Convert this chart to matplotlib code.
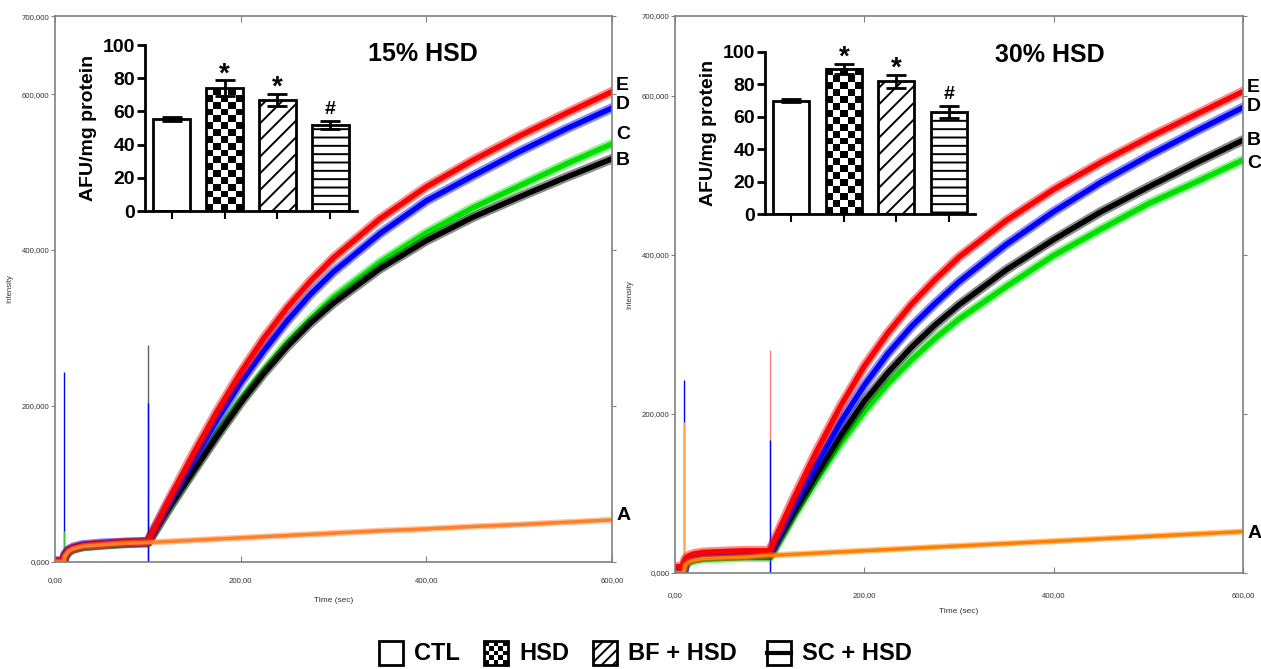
import numpy as np
import matplotlib
matplotlib.use('Agg')
import matplotlib.pyplot as plt
from matplotlib.patches import Rectangle

plt.rcParams['font.family'] = ['Liberation Sans', 'DejaVu Sans']
plt.rcParams['hatch.linewidth'] = 1.4

# ---- kinetic traces, intensity in thousands ----
time = [0, 9, 11, 15, 20, 30, 50, 75, 100,
        125, 150, 175, 200, 225, 250, 275, 300, 350, 400, 450, 500, 550, 600]

# 15% HSD panel
l_A = [0, 0, 8, 14, 17, 20, 22, 24, 25,
       26.5, 28, 29.5, 31, 32.5, 34, 35.5, 37, 40, 42.5, 45.5, 48, 51, 54]
l_B = [0, 0, 8, 14, 17, 20, 22, 24, 25,
       73, 118, 162, 204, 242, 276, 306, 332, 376, 412, 442, 468, 493, 517]
l_C = [0, 0, 8, 14, 17, 20, 22, 24, 25,
       74, 120, 165, 207, 245, 281, 311, 339, 384, 422, 454, 482, 510, 536]
l_D = [1, 1, 10, 16, 19, 22, 24, 25, 26,
       81, 133, 183, 230, 271, 309, 343, 372, 421, 463, 495, 526, 555, 582]
l_E = [1, 1, 9, 15, 18, 21, 23, 25, 26,
       85, 141, 194, 243, 287, 326, 360, 390, 440, 481, 515, 546, 575, 603]

# 30% HSD panel
r_A = [0, 0, 10, 14, 16, 18, 19, 20, 22,
       23.5, 25, 26.5, 28, 29.5, 31, 32.5, 34, 37, 40, 43, 46, 49, 52]
r_B = [2, 2, 12, 16, 18, 20, 21, 22, 22,
       75, 125, 173, 216, 252, 284, 312, 337, 381, 419, 454, 485, 515, 544]
r_C = [0, 0, 10, 14, 16, 18, 19, 20, 20,
       71, 118, 163, 203, 238, 268, 295, 319, 360, 399, 432, 464, 491, 519]
r_D = [3, 3, 14, 18, 20, 22, 24, 25, 25,
       84, 138, 190, 236, 276, 310, 339, 366, 413, 454, 491, 524, 555, 585]
r_E = [8, 8, 18, 22, 24, 26, 27, 28, 28,
       93, 154, 210, 260, 302, 338, 369, 397, 443, 482, 516, 547, 576, 605]

# injection spikes
l_spike_t = [10, 10, 100, 100]
l_spike_top = [243, 40, 278, 204]
r_spike_t = [9.5, 9.5, 100, 100]
r_spike_top = [242, 190, 280, 167]

yticks = [0, 200, 400, 600, 700]
ytick_labels = ['0,000', '200,000', '400,000', '600,000', '700,000']
xticks = [0, 200, 400, 600]
xtick_labels = ['0,00', '200,00', '400,00', '600,00']

# ---- inset bars (AFU/mg protein) ----
groups = ['CTL', 'HSD', 'BF + HSD', 'SC + HSD']
afu_15 = [55.5, 74, 67, 52]
err_15 = [1, 4.8, 3.5, 2.5]
afu_30 = [70, 89.5, 82, 63]
err_30 = [1, 3, 4, 3.5]
marks = ['', '*', '*', '#']

fig = plt.figure(figsize=(12.61, 6.69), dpi=100)

spine_gray = '#808080'


def trace_panel(rect, traces, colors, letters, letter_dy, spike_t, spike_top, spike_colors, title, xpad, xlabpad):
    ax = fig.add_axes(rect)
    for vals, c in zip(traces, colors):
        lw = 4.5 if c.startswith('#ff') and c != '#ff0000' else 7
        ax.plot(time, vals, color=c, lw=lw, alpha=0.45, solid_joinstyle='round', zorder=2)
        ax.plot(time, vals, color=c, lw=lw * 0.55, solid_joinstyle='round', zorder=2)
    for t, top, c in zip(spike_t, spike_top, spike_colors):
        ax.vlines(t, 0, top, color=c, lw=1, zorder=1)
    for vals, let, dy in zip(traces, letters, letter_dy):
        ax.annotate(let, xy=(600, vals[-1]), xytext=(3, dy), textcoords='offset points',
                    fontsize=14, fontweight='bold', ha='left', va='center', annotation_clip=False)
    ax.set_xlim(0, 600)
    ax.set_ylim(0, 700)
    ax.set_xticks(xticks)
    ax.set_xticklabels(xtick_labels)
    ax.set_yticks(yticks)
    ax.set_yticklabels(ytick_labels)
    for s in ax.spines.values():
        s.set_color(spine_gray)
        s.set_linewidth(1.2)
    ax.tick_params(axis='x', direction='in', length=4, color=spine_gray, labelsize=5.6,
                   labelcolor='#333333', pad=xpad, top=True)
    ax.tick_params(axis='y', direction='out', length=3, color=spine_gray, labelsize=5.6,
                   labelcolor='#333333', pad=1, right=True)
    ax.set_xlabel('Time (sec)', fontsize=6, color='#333333', labelpad=xlabpad)
    ax.set_ylabel('Intensity', fontsize=5.5, color='#333333', labelpad=6)
    ax.text(0.66, 0.93, title, transform=ax.transAxes, fontsize=18, fontweight='bold',
            ha='center', va='center')
    return ax


def inset_bars(rect, vals, errs, sq_h):
    ax = fig.add_axes(rect)
    ax.patch.set_visible(False)
    pos = np.arange(len(groups))
    width = 0.68
    bars = ax.bar(pos, vals, width=width, color='white', edgecolor='black', lw=2, zorder=2)
    # checkerboard for HSD
    ny = int(round(vals[1] / sq_h))
    pat = np.indices((ny, 5)).sum(axis=0) % 2
    ax.imshow(pat, cmap='gray', extent=(pos[1] - width / 2, pos[1] + width / 2, 0, vals[1]),
              origin='lower', aspect='auto', interpolation='nearest', zorder=1.5)
    bars[1].set_facecolor('none')
    bars[2].set_hatch('//')
    bars[3].set_hatch('--')
    ax.errorbar(pos, vals, yerr=errs, fmt='none', ecolor='black', elinewidth=2,
                capsize=7, capthick=2, zorder=3)
    for p, v, e, m in zip(pos, vals, errs, marks):
        if m:
            ax.annotate(m, xy=(p, v + e), xytext=(0, -5 if m == '*' else 2), textcoords='offset points',
                        ha='center', va='bottom', fontsize=20 if m == '*' else 14, fontweight='bold')
    ax.set_xlim(-0.5, 3.5)
    ax.set_ylim(0, 100)
    ax.set_yticks([0, 20, 40, 60, 80, 100])
    ax.set_xticks(pos)
    ax.set_xticklabels([])
    ax.spines['top'].set_visible(False)
    ax.spines['right'].set_visible(False)
    ax.spines['left'].set_linewidth(2)
    ax.spines['bottom'].set_linewidth(2)
    ax.tick_params(axis='y', length=6, width=2, labelsize=14, pad=1)
    ax.tick_params(axis='x', length=6, width=1.5)
    for lab in ax.get_yticklabels():
        lab.set_fontweight('bold')
    ax.set_ylabel('AFU/mg protein', fontsize=14, fontweight='bold', labelpad=4)
    return ax


trace_panel([0.0436, 0.1599, 0.4417, 0.8161], [l_C, l_B, l_D, l_E, l_A],
            ['#00e000', 'black', '#0000ff', '#ff0000', '#ff7f2a'],
            ['C', 'B', 'D', 'E', 'A'], [7, -1.5, 2.5, 4.5, 3.5],
            l_spike_t, l_spike_top, ['#0000ff', '#40c040', '#606060', '#0000ff'],
            '15% HSD', 11, 9)
trace_panel([0.5353, 0.1435, 0.4504, 0.8326], [r_C, r_B, r_D, r_E, r_A],
            ['#00e000', 'black', '#0000ff', '#ff0000', '#ff8000'],
            ['C', 'B', 'D', 'E', 'A'], [-2.5, 0, 0.5, 3, -1.5],
            r_spike_t, r_spike_top, ['#0000ff', '#ffa050', '#ff8080', '#0000ff'],
            '30% HSD', 14, 6)

inset_bars([0.1150, 0.6846, 0.1681, 0.2481], afu_15, err_15, 4.2)
inset_bars([0.6067, 0.6801, 0.1665, 0.2422], afu_30, err_30, 4.3)

# ---- shared legend at the bottom (pixel coordinates) ----
lg = fig.add_axes([0, 0, 1, 1])
lg.axis('off')
box_x = [379, 484, 593, 767]
box_top, box = 641, 24
for i, (bx, name) in enumerate(zip(box_x, groups)):
    lg.add_patch(Rectangle((bx, box_top), box, box, facecolor='white', edgecolor='black', lw=2, zorder=3,
                           hatch='///' if i == 2 else None, fill=(i != 1)))
    if i == 1:
        pat = np.indices((5, 5)).sum(axis=0) % 2
        lg.imshow(pat, cmap='gray', extent=(bx, bx + box, box_top + box, box_top), aspect='auto',
                  interpolation='nearest', zorder=2)
    if i == 3:
        lg.plot([bx, bx + box], [box_top + box / 2, box_top + box / 2], color='black', lw=3, zorder=4)
    lg.text(bx + 35, box_top + box / 2 + 1, name, fontsize=17, fontweight='bold', ha='left', va='center')
lg.set_xlim(0, 1261)
lg.set_ylim(669, 0)

fig.savefig('out.png', dpi=100)
